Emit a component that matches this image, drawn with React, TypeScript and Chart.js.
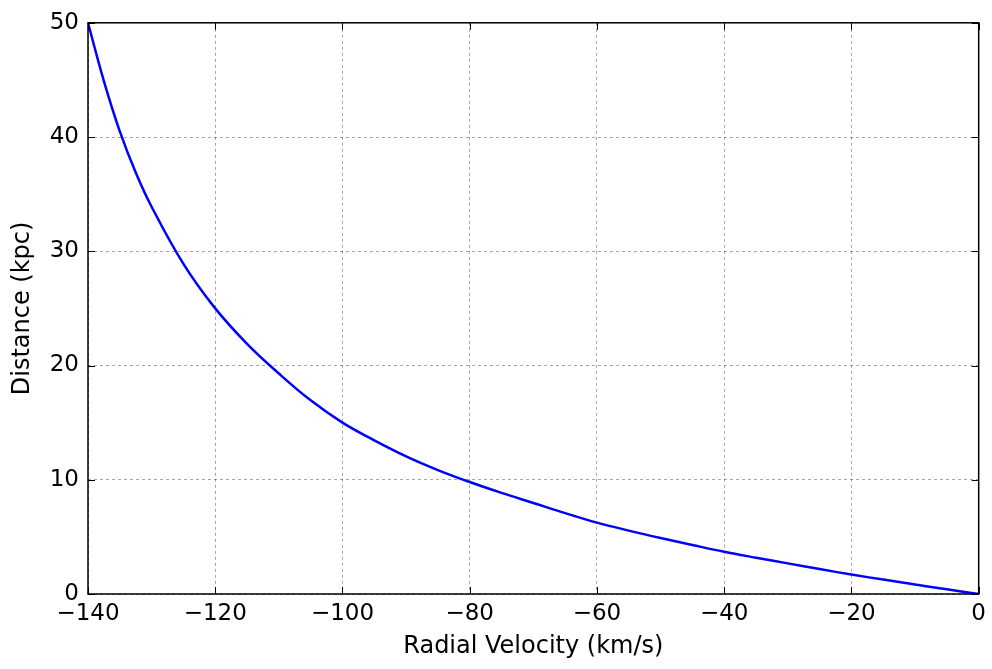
import React, { useEffect, useRef } from "react";
import { Chart, registerables } from "chart.js";

Chart.register(...registerables);

const velocities = [-140, -137.5, -135, -132.5, -130, -125, -120, -115, -110, -105, -100, -95, -90, -85, -80, -75, -70, -65, -60, -55, -50, -45, -40, -35, -30, -25, -20, -15, -10, -5, 0];
const distances = [50, 44.9, 40.5, 36.9, 33.9, 28.9, 25.0, 21.9, 19.3, 16.95, 15.0, 13.45, 12.05, 10.85, 9.8, 8.85, 7.97, 7.08, 6.25, 5.55, 4.9, 4.29, 3.7, 3.18, 2.68, 2.18, 1.7, 1.26, 0.83, 0.41, 0];
const xTicks = [-140, -120, -100, -80, -60, -40, -20, 0];
const yTicks = [0, 10, 20, 30, 40, 50];

const FONT = "'DejaVu Sans', sans-serif";

const framePlugin = {
  id: "frame",
  afterDraw(chart: any) {
    const { ctx, chartArea } = chart;
    const { left, right, top, bottom } = chartArea;
    const xs = chart.scales.x;
    const ys = chart.scales.y;
    const len = 7;
    ctx.save();
    ctx.strokeStyle = "#000";
    ctx.lineWidth = 1;
    ctx.beginPath();
    xTicks.forEach((v) => {
      const px = Math.round(xs.getPixelForValue(v)) + 0.5;
      ctx.moveTo(px, bottom);
      ctx.lineTo(px, bottom - len);
      ctx.moveTo(px, top);
      ctx.lineTo(px, top + len);
    });
    yTicks.forEach((v) => {
      const py = Math.round(ys.getPixelForValue(v)) + 0.5;
      ctx.moveTo(left, py);
      ctx.lineTo(left + len, py);
      ctx.moveTo(right, py);
      ctx.lineTo(right - len, py);
    });
    ctx.stroke();
    ctx.lineWidth = 1.5;
    ctx.strokeRect(left, top, right - left, bottom - top);
    ctx.restore();
  },
};

export default function App() {
  const ref = useRef<HTMLCanvasElement | null>(null);
  useEffect(() => {
    document.body.style.margin = "0";
    const canvas = ref.current;
    if (!canvas) return;
    const chart = new Chart(canvas, {
      type: "line",
      data: {
        datasets: [
          {
            data: velocities.map((v, i) => ({ x: v, y: distances[i] })),
            borderColor: "#0000ff",
            borderWidth: 2.5,
            pointRadius: 0,
            fill: false,
            tension: 0.4,
          },
        ],
      },
      options: {
        responsive: false,
        animation: false,
        layout: { padding: { left: 0, right: 12, top: 21, bottom: 0 } },
        plugins: { legend: { display: false }, tooltip: { enabled: false } },
        scales: {
          x: {
            type: "linear",
            min: -140,
            max: 0,
            afterBuildTicks: (s: any) => {
              s.ticks = xTicks.map((v) => ({ value: v }));
            },
            afterFit: (s: any) => {
              s.height = 75;
            },
            ticks: {
              font: { family: FONT, size: 23 },
              color: "#000",
              padding: 6,
              maxRotation: 0,
              autoSkip: false,
              callback: (v: any) => (Number(v) < 0 ? "\u2212" + Math.abs(Number(v)) : String(v)),
            },
            grid: {
              color: "rgba(0,0,0,0.35)",
              drawTicks: false,
            },
            border: { display: false, dash: [3, 3] },
            title: {
              display: true,
              text: "Radial Velocity (km/s)",
              font: { family: FONT, size: 24 },
              color: "#000",
              padding: { top: 0, bottom: 8 },
            },
          },
          y: {
            type: "linear",
            min: 0,
            max: 50,
            afterBuildTicks: (s: any) => {
              s.ticks = yTicks.map((v) => ({ value: v }));
            },
            afterFit: (s: any) => {
              s.width = 88;
            },
            ticks: {
              font: { family: FONT, size: 23 },
              color: "#000",
              padding: 9,
            },
            grid: {
              color: "rgba(0,0,0,0.35)",
              drawTicks: false,
            },
            border: { display: false, dash: [3, 3] },
            title: {
              display: true,
              text: "Distance (kpc)",
              font: { family: FONT, size: 24 },
              color: "#000",
              padding: { top: 8, bottom: 0 },
            },
          },
        },
      },
      plugins: [framePlugin],
    } as any);
    return () => chart.destroy();
  }, []);
  return (
    <div style={{ width: 992, height: 669 }}>
      <canvas ref={ref} width={992} height={669} style={{ display: "block" }} />
    </div>
  );
}
